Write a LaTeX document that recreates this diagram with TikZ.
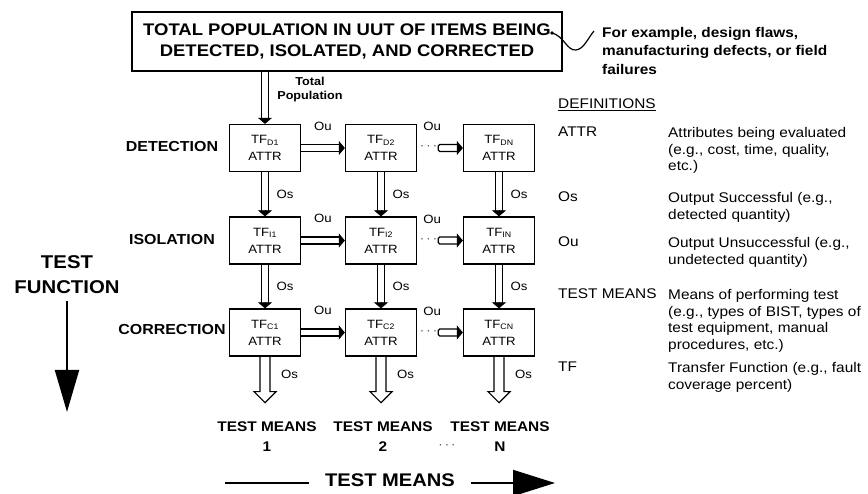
\documentclass[tikz,border=0pt]{standalone}
\usepackage{fontspec}
\setmainfont[FakeStretch=1.1]{Liberation Sans}
\usetikzlibrary{arrows.meta,calc}
\newcommand\fsz[2]{\fontsize{#1}{#2}\selectfont}
\begin{document}
\begin{tikzpicture}[x=1pt,y=-1pt,
  box/.style={draw, line width=1.3pt, minimum width=71pt, minimum height=47pt, inner sep=0pt, align=center, font=\fsz{12}{17}},
  shaft/.style={draw, double distance=5.6pt, line width=1.3pt},
  headtip/.style={-{Triangle[width=14pt,length=6pt]}, line width=0.6pt},
  lbl/.style={font=\fsz{12}{14}, inner sep=2pt},
  rowlbl/.style={font=\bfseries\fsz{14.5}{17}},
  deftext/.style={font=\fsz{14}{16.7}, align=left, anchor=north west, inner sep=0pt},
  tmlbl/.style={font=\bfseries\fsz{14}{20}, align=center},
  bigarrow/.style={line width=2pt},
]
\useasboundingbox[fill=white] (0,0) rectangle (868,494);

% top box
\node[draw, line width=1.3pt, minimum width=430pt, minimum height=59pt, align=center,
      font=\bfseries\fsz{16.8}{21}] (top) at (347,41.5)
  {TOTAL POPULATION IN UUT OF ITEMS BEING\\DETECTED, ISOLATED, AND CORRECTED};

% wavy pointer
\coordinate (wv0) at (552,33);
\coordinate (wv1) at (594,31);
\fill (wv0) circle (1.8pt);
\draw[line width=1.2pt] (wv0) .. controls (564,36) and (567,51) .. (576,50) .. controls (584,49) and (588,38) .. (wv1);

\node[deftext, font=\bfseries\fsz{14}{18.5}] (ex) at (602,27)
  {For example, design flaws,\\manufacturing defects, or field\\failures};

% grid of boxes
\node[box] (d1) at (265,148) {TF\textsubscript{D1}\\ATTR};
\node[box] (d2) at (381,148) {TF\textsubscript{D2}\\ATTR};
\node[box] (d3) at (499,148) {TF\textsubscript{DN}\\ATTR};
\node[box] (i1) at (265,240.5) {TF\textsubscript{I1}\\ATTR};
\node[box] (i2) at (381,240.5) {TF\textsubscript{I2}\\ATTR};
\node[box] (i3) at (499,240.5) {TF\textsubscript{IN}\\ATTR};
\node[box] (c1) at (265,332.5) {TF\textsubscript{C1}\\ATTR};
\node[box] (c2) at (381,332.5) {TF\textsubscript{C2}\\ATTR};
\node[box] (c3) at (499,332.5) {TF\textsubscript{CN}\\ATTR};

% row labels
\node[rowlbl] (ldet) at (172,147) {DETECTION};
\node[rowlbl] (liso) at (172,240) {ISOLATION};
\node[rowlbl] (lcor) at (172,330) {CORRECTION};

% total population arrow
\draw[shaft, shorten >=5pt] (top.south -| d1.north) -- (d1.north);
\draw[headtip] ([yshift=6pt]d1.north) -- (d1.north);
\node[font=\bfseries\fsz{11.5}{14}, align=center] (totpop) at (310,90) {Total\\Population};

% vertical Os arrows
\foreach \a/\b in {d1/i1,d2/i2,d3/i3,i1/c1,i2/c2,i3/c3}{
  \draw[shaft, shorten >=5pt] (\a.south) -- (\b.north) node[midway, right=9pt, lbl] {Os};
  \draw[headtip] ([yshift=6pt]\b.north) -- (\b.north);
}

% horizontal Ou arrows, first column to second
\foreach \a/\b in {d1/d2,i1/i2,c1/c2}{
  \draw[shaft, shorten >=5pt] (\a.east) -- (\b.west) node[midway, above=15pt, lbl] {Ou};
  \draw[headtip] ([xshift=-6pt]\b.west) -- (\b.west);
}

% second column to last column (dotted continuation)
\foreach \a/\b in {d2/d3,i2/i3,c2/c3}{
  \node[lbl, above=15pt] at ($(\a.east)!0.33!(\b.west)$) {Ou};
  \node[font=\fsz{12}{12}, text=black!70, inner sep=0pt] at ($(\a.east)!0.25!(\b.west)$)
     {\textperiodcentered\,\textperiodcentered\,\textperiodcentered};
  \coordinate (s\a) at ($(\a.east)!0.46!(\b.west)$);
  \draw[line width=1.3pt, rounded corners=1.5pt]
     ([xshift=-5pt,yshift=3.45pt]\b.west) -- ([yshift=3.45pt]s\a) -- ([yshift=-3.45pt]s\a) -- ([xshift=-5pt,yshift=-3.45pt]\b.west);
  \draw[headtip] ([xshift=-6pt]\b.west) -- (\b.west);
}

% bottom hollow arrows
\foreach \c in {c1,c2,c3}{
  \draw[line width=1.2pt, line join=miter]
    ([xshift=-5pt]\c.south) -- ++(0,35) -- ++(-6,0) -- ++(11,11) -- ++(11,-11) -- ++(-6,0) -- ++(0,-35);
  \node[lbl, anchor=west] at ([xshift=14pt, yshift=-18pt]\c.south) {Os};
}

% bottom labels
\node[tmlbl] (tm1) at (267,437) {TEST MEANS\\1};
\node[tmlbl] (tm2) at (383,437) {TEST MEANS\\2};
\node[tmlbl] (tm3) at (500,437) {TEST MEANS\\N};
\node[font=\fsz{12}{12}, text=black!70, inner sep=0pt] (tmdots) at (447,447)
   {\textperiodcentered\,\textperiodcentered\,\textperiodcentered};

% TEST MEANS axis
\node[font=\bfseries\fsz{18.3}{22}] (tmeans) at (390,480) {TEST MEANS};
\coordinate (tmL) at (225,483);
\coordinate (tmR) at (555,483);
\draw[bigarrow, shorten >=13pt] (tmL) -- (tmL -| tmeans.west);
\draw[bigarrow, shorten <=13pt, -{Triangle[width=26pt,length=42pt]}] (tmR -| tmeans.east) -- (tmR);

% TEST FUNCTION axis
\node[font=\bfseries\fsz{18.5}{25}, align=center] (tfun) at (67,275) {TEST\\FUNCTION};
\coordinate (tfend) at (67,412);
\draw[bigarrow, shorten <=3pt, -{Triangle[width=24pt,length=42pt]}] (tfun.south) -- (tfend);

% definitions
\node[font=\fsz{14}{16}, anchor=west, inner sep=0pt] (defs) at (558,105) {\underline{DEFINITIONS}};
\node[deftext] (tattr) at (558,127) {ATTR};
\node[deftext] (dattr) at (668,127) {Attributes being evaluated\\(e.g., cost, time, quality,\\etc.)};
\node[deftext] (tos) at (558,192) {Os};
\node[deftext] (dos) at (668,192) {Output Successful (e.g.,\\detected quantity)};
\node[deftext] (tou) at (558,237) {Ou};
\node[deftext] (dou) at (668,237) {Output Unsuccessful (e.g.,\\undetected quantity)};
\node[deftext] (ttm) at (558,289) {TEST MEANS};
\node[deftext] (dtm) at (668,289) {Means of performing test\\(e.g., types of BIST, types of\\test equipment, manual\\procedures, etc.)};
\node[deftext] (ttf) at (558,362) {TF};
\node[deftext] (dtf) at (668,362) {Transfer Function (e.g., fault\\coverage percent)};
\end{tikzpicture}
\end{document}
